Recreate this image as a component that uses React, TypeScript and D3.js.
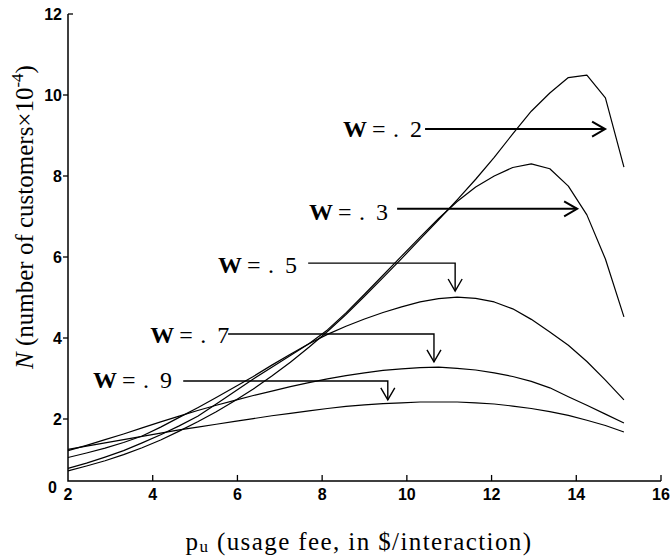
import React from 'react';
import * as d3 from 'd3';

// usage fee grid (p_u, $/interaction)
const X = [2, 2.4375, 2.875, 3.3125, 3.75, 4.1875, 4.625, 5.0625, 5.5, 5.9375, 6.375, 6.8125, 7.25, 7.6875, 8.125, 8.5625, 9, 9.4375, 9.875, 10.3125, 10.75, 11.1875, 11.625, 12.0625, 12.5, 12.9375, 13.375, 13.8125, 14.25, 14.6875, 15.125];

// N (customers x 10^-4) per weight W
const W2 = [0.72, 0.84, 0.97, 1.12, 1.29, 1.48, 1.70, 1.93, 2.18, 2.45, 2.74, 3.06, 3.40, 3.77, 4.16, 4.58, 5.03, 5.49, 5.96, 6.44, 6.92, 7.41, 7.92, 8.46, 9.04, 9.60, 10.05, 10.43, 10.49, 9.93, 8.22];
const W3 = [0.78, 0.91, 1.06, 1.22, 1.41, 1.61, 1.83, 2.07, 2.37, 2.68, 2.99, 3.28, 3.57, 3.86, 4.20, 4.62, 5.08, 5.55, 6.02, 6.49, 6.95, 7.37, 7.73, 8.00, 8.21, 8.30, 8.18, 7.75, 7.04, 5.95, 4.52];
const W5 = [1.05, 1.16, 1.28, 1.42, 1.58, 1.80, 2.04, 2.28, 2.53, 2.79, 3.05, 3.33, 3.60, 3.86, 4.09, 4.29, 4.47, 4.63, 4.77, 4.89, 4.97, 5.01, 4.98, 4.89, 4.72, 4.46, 4.15, 3.82, 3.42, 2.96, 2.47];
const W7 = [1.22, 1.35, 1.49, 1.63, 1.78, 1.93, 2.07, 2.21, 2.34, 2.46, 2.58, 2.69, 2.80, 2.90, 2.99, 3.07, 3.14, 3.20, 3.24, 3.27, 3.28, 3.25, 3.21, 3.14, 3.05, 2.93, 2.77, 2.55, 2.34, 2.12, 1.90];
const W9 = [1.25, 1.33, 1.41, 1.49, 1.57, 1.65, 1.73, 1.80, 1.87, 1.94, 2.01, 2.08, 2.14, 2.20, 2.26, 2.31, 2.35, 2.38, 2.40, 2.42, 2.42, 2.42, 2.40, 2.37, 2.32, 2.26, 2.18, 2.09, 1.97, 1.84, 1.68];

const SERIES = [W2, W3, W5, W7, W9];

const X_TICKS = [2, 4, 6, 8, 10, 12, 14, 16];
const Y_TICKS = [2, 4, 6, 8, 10, 12];

// labels "W = . n" and their arrows, in data units
const NOTES = [
  { digit: '2', lx: 8.49, ly: 9.14, x0: 10.43, x1: 14.68, y0: 9.16, y1: null, heavy: true },
  { digit: '3', lx: 7.69, ly: 7.09, x0: 9.77, x1: 14.02, y0: 7.19, y1: null, heavy: true },
  { digit: '5', lx: 5.54, ly: 5.80, x0: 7.67, x1: 11.14, y0: 5.85, y1: 5.16, heavy: false },
  { digit: '7', lx: 3.94, ly: 4.07, x0: 5.78, x1: 10.64, y0: 4.10, y1: 3.41, heavy: false },
  { digit: '9', lx: 2.59, ly: 2.94, x0: 4.72, x1: 9.55, y0: 2.94, y1: 2.47, heavy: false },
];

const W = 672;
const H = 557;
const AXIS_FLOOR = 0.47;

const serif = 'Liberation Serif, Times New Roman, serif';
const sans = 'Liberation Sans, Arial, sans-serif';

export default function App() {
  const x = d3.scaleLinear().domain([2, 16]).range([68, 661]);
  const y = d3.scaleLinear().domain([0, 12]).range([500, 14]);
  const yFloor = y(AXIS_FLOOR);

  const line = d3.line<number>()
    .x((_, i) => x(X[i]))
    .y(d => y(d))
    .curve(d3.curveLinear);

  return (
    <svg width={W} height={H} style={{ position: 'absolute', left: 0, top: 0, background: '#fff' }}>
      {/* axes */}
      <path d={`M${x(2)},${y(12)}V${yFloor}H${x(16)}`} fill="none" stroke="#000" strokeWidth={1.5} />
      {Y_TICKS.map(t => (
        <g key={'y' + t}>
          {t === 12
            ? <line x1={x(2)} x2={x(2) + 5} y1={y(t)} y2={y(t)} stroke="#000" strokeWidth={1.3} />
            : <line x1={x(2) - 5} x2={x(2)} y1={y(t)} y2={y(t)} stroke="#000" strokeWidth={1.3} />}
          <text x={x(2) - 6} y={y(t)} dy="0.36em" textAnchor="end" fontFamily={sans} fontWeight="bold" fontSize={16}>{t}</text>
        </g>
      ))}
      <text x={x(2) - 11} y={yFloor + 12} textAnchor="end" fontFamily={sans} fontWeight="bold" fontSize={16}>0</text>
      {X_TICKS.map(t => (
        <g key={'x' + t}>
          {t > 2 && <line x1={x(t)} x2={x(t)} y1={yFloor} y2={yFloor - 6} stroke="#000" strokeWidth={1.3} />}
          <text x={x(t)} y={yFloor + 19} textAnchor="middle" fontFamily={sans} fontWeight="bold" fontSize={16}>{t}</text>
        </g>
      ))}

      {/* curves */}
      {SERIES.map((s, i) => (
        <path key={'s' + i} d={line(s) || ''} fill="none" stroke="#000" strokeWidth={1.2} strokeLinejoin="round" />
      ))}

      {/* annotations */}
      {NOTES.map(n => {
        const lx = x(n.lx);
        const base = y(n.ly) + 7.5;
        const sw = n.heavy ? 2 : 1.4;
        let shaft: string;
        let head: string;
        if (n.y1 === null) {
          const tx = x(n.x1), ty = y(n.y0);
          shaft = `M${x(n.x0)},${ty}H${tx}`;
          head = `M${tx - 13},${ty - 7.5}L${tx},${ty}L${tx - 13},${ty + 7.5}`;
        } else {
          const cx = x(n.x1), ty = y(n.y1);
          shaft = `M${x(n.x0)},${y(n.y0)}H${cx}V${ty}`;
          head = `M${cx - 7},${ty - 12}L${cx},${ty}L${cx + 7},${ty - 12}`;
        }
        return (
          <g key={'n' + n.digit}>
            <text x={lx} y={base} fontFamily={serif} fontSize={24}>
              <tspan fontWeight="bold">W</tspan>
              <tspan x={lx + 29}>=</tspan>
              <tspan x={lx + 50}>.</tspan>
              <tspan x={lx + 67}>{n.digit}</tspan>
            </text>
            <path d={shaft} fill="none" stroke="#000" strokeWidth={sw} />
            <path d={head} fill="none" stroke="#000" strokeWidth={sw} />
          </g>
        );
      })}

      {/* axis titles */}
      <text transform="translate(33,217) rotate(-90)" textAnchor="middle" fontFamily={serif} fontSize={25}>
        <tspan fontStyle="italic">N</tspan> (number of customers×10<tspan dy={-10} fontSize={17}>-4</tspan><tspan dy={10}>)</tspan>
      </text>
      <text x={359} y={550} textAnchor="middle" fontFamily={serif} fontSize={25} letterSpacing={1.4}>
        p<tspan fontSize={17} dy={2}>u</tspan><tspan dy={-2}> (usage fee, in $/interaction)</tspan>
      </text>
    </svg>
  );
}
